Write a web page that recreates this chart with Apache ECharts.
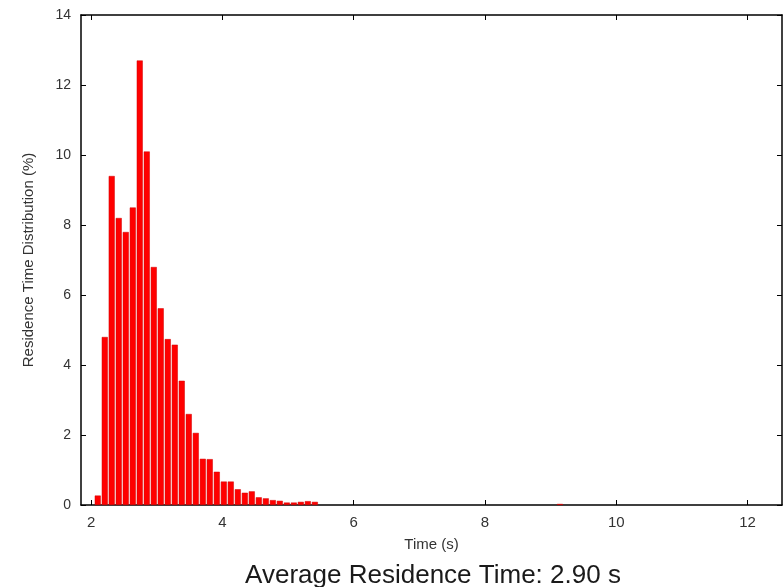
<!DOCTYPE html>
<html>
<head>
<meta charset="utf-8">
<script src="https://cdn.jsdelivr.net/npm/echarts@6/dist/echarts.min.js"></script>
<style>html,body{margin:0;padding:0;background:#fff}#c{width:784px;height:587px}</style>
</head>
<body>
<div id="c"></div>
<script>
// Bin centres (s) and residence-time distribution (%)
const times = [2.100, 2.207, 2.313, 2.420, 2.527, 2.634, 2.740, 2.847, 2.954, 3.060,
  3.167, 3.274, 3.380, 3.487, 3.594, 3.701, 3.807, 3.914, 4.021, 4.127,
  4.234, 4.341, 4.447, 4.554, 4.661, 4.768, 4.874, 4.981, 5.088, 5.194,
  5.301, 5.408, 9.142];
const values = [0.27, 4.8, 9.4, 8.2, 7.8, 8.5, 12.7, 10.1, 6.8, 5.62,
  4.74, 4.58, 3.55, 2.6, 2.06, 1.32, 1.31, 0.95, 0.67, 0.67,
  0.45, 0.35, 0.39, 0.22, 0.19, 0.14, 0.12, 0.07, 0.07, 0.09,
  0.11, 0.09, 0.03];
const xTicks = [2, 4, 6, 8, 10, 12];
const xTitle = 'Time (s)';
const yTitle = 'Residence Time Distribution (%)';
const caption = 'Average Residence Time: 2.90 s';

const font = 'Liberation Sans, Arial, Helvetica, sans-serif';
const chart = echarts.init(document.getElementById('c'), null, {renderer: 'canvas'});
const lineStyle = {color: '#000', width: 1.5};
chart.setOption({
  animation: false,
  backgroundColor: '#fff',
  title: {
    text: caption,
    left: 428, top: 558,
    textAlign: 'center',
    textStyle: {fontFamily: font, fontSize: 26, fontWeight: 'normal', color: '#1a1a1a'}
  },
  grid: {left: 81, right: 2, top: 15, bottom: 82, containLabel: false},
  xAxis: [{
    type: 'value', min: 1.845, max: 12.525, position: 'bottom',
    name: xTitle, nameLocation: 'middle', nameGap: 32,
    nameTextStyle: {fontFamily: font, fontSize: 15, color: '#333'},
    axisLine: {show: true, onZero: false, lineStyle: lineStyle},
    axisTick: {show: true, inside: true, length: 5, customValues: xTicks, lineStyle: {color: '#000', width: 1}},
    axisLabel: {customValues: xTicks, fontFamily: font, fontSize: 15, color: '#333', margin: 10},
    splitLine: {show: false}
  }, {
    type: 'value', min: 1.845, max: 12.525, position: 'top',
    axisLine: {show: true, onZero: false, lineStyle: lineStyle},
    axisTick: {show: true, inside: true, length: 5, customValues: xTicks, lineStyle: {color: '#000', width: 1}},
    axisLabel: {show: false},
    splitLine: {show: false}
  }],
  yAxis: [{
    type: 'value', min: 0, max: 14, interval: 2, position: 'left',
    name: yTitle, nameLocation: 'middle', nameGap: 45,
    nameTextStyle: {fontFamily: font, fontSize: 15, color: '#333'},
    axisLine: {show: true, onZero: false, lineStyle: lineStyle},
    axisTick: {show: true, inside: true, length: 5, lineStyle: {color: '#000', width: 1}},
    axisLabel: {fontFamily: font, fontSize: 14, color: '#333', margin: 10},
    splitLine: {show: false}
  }, {
    type: 'value', min: 0, max: 14, interval: 2, position: 'right',
    axisLine: {show: true, onZero: false, lineStyle: lineStyle},
    axisTick: {show: true, inside: true, length: 5, lineStyle: {color: '#000', width: 1}},
    axisLabel: {show: false},
    splitLine: {show: false}
  }],
  series: [{
    type: 'bar',
    xAxisIndex: 0, yAxisIndex: 0,
    data: times.map((t, i) => [t, values[i]]),
    barWidth: 6,
    itemStyle: {color: '#ff0000', borderColor: '#d00000', borderWidth: 0.5}
  }]
});
</script>
</body>
</html>
